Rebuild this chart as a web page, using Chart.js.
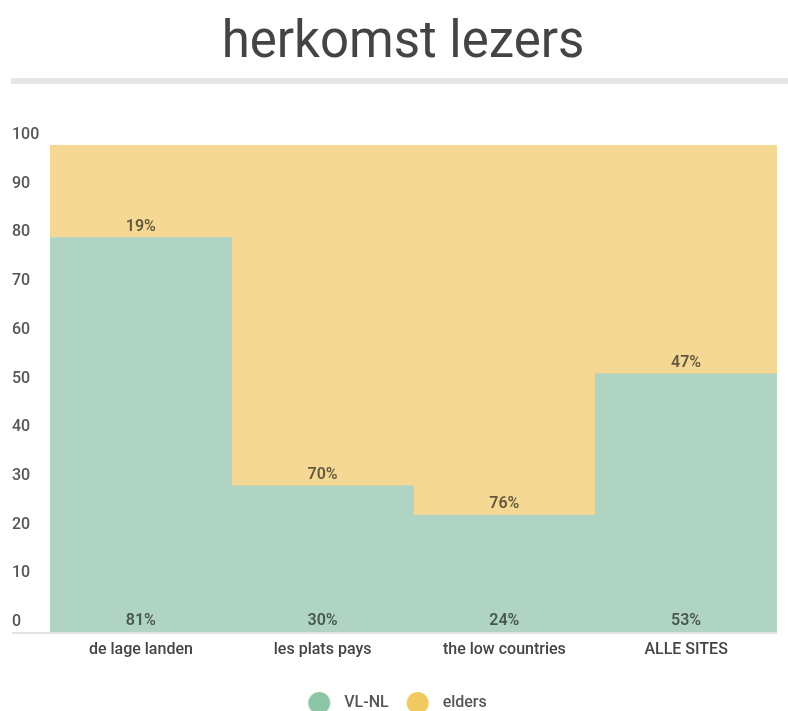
<!DOCTYPE html>
<html>
<head>
<meta charset="utf-8">
<script src="https://cdn.jsdelivr.net/npm/chart.js@4.4.0/dist/chart.umd.min.js"></script>
<style>
  html, body { margin: 0; padding: 0; background: #fff; overflow: hidden; }
  #title {
    position: absolute; left: 0; top: 10px; width: 806px; text-align: center;
    font-family: Roboto, sans-serif; font-size: 51px; color: #444; line-height: 60px;
  }
  #rule { position: absolute; left: 11px; top: 78px; width: 777px; height: 6px; background: #e6e6e6; }
  #wrap { position: absolute; left: 0; top: 0; width: 788px; height: 721px; }
</style>
</head>
<body>
<div id="title">herkomst lezers</div>
<div id="rule"></div>
<div id="wrap"><canvas id="herkomstChart"></canvas></div>
<script>
// categories and the two series (percentages)
var sites = ['de lage landen', 'les plats pays', 'the low countries', 'ALLE SITES'];
var vlNL = [81, 30, 24, 53];
var elders = [19, 70, 76, 47];
var seriesNames = ['VL-NL', 'elders'];
var yTicks = [0, 10, 20, 30, 40, 50, 60, 70, 80, 90, 100];

var barColors = ['#b0d4c3', '#f4d893'];
var legendColors = ['#8cc4a6', '#f0ca60'];

// round legend dots as small canvases so the dot keeps its size
function makeDot(color) {
  var c = document.createElement('canvas');
  c.width = 24; c.height = 24;
  var g = c.getContext('2d');
  g.fillStyle = color;
  g.beginPath();
  g.arc(12, 12, 11, 0, Math.PI * 2);
  g.fill();
  return c;
}
var dots = legendColors.map(makeDot);

// labels at the start of every segment, like the original
var segmentLabels = {
  id: 'segmentLabels',
  afterDatasetsDraw: function(chart) {
    var ctx = chart.ctx;
    ctx.save();
    ctx.font = '600 16px Roboto, sans-serif';
    ctx.fillStyle = 'rgba(0,0,0,0.6)';
    ctx.textAlign = 'center';
    ctx.textBaseline = 'middle';
    chart.data.datasets.forEach(function(ds, i) {
      var meta = chart.getDatasetMeta(i);
      meta.data.forEach(function(bar, j) {
        ctx.fillText(ds.data[j] + '%', bar.x, bar.base - 11);
      });
    });
    ctx.restore();
  }
};

// light baseline under the bars, running under the y labels too
var baseLine = {
  id: 'baseLine',
  afterDatasetsDraw: function(chart) {
    var ctx = chart.ctx;
    var y = chart.scales.y.getPixelForValue(0);
    ctx.save();
    ctx.fillStyle = '#e3e3e3';
    ctx.fillRect(12, Math.round(y), chart.chartArea.right - 12, 2);
    ctx.restore();
  }
};

var ctx = document.getElementById('herkomstChart').getContext('2d');
var myChart = new Chart(ctx, {
  type: 'bar',
  data: {
    labels: sites,
    datasets: [
      { label: seriesNames[0], data: vlNL, backgroundColor: barColors[0], borderWidth: 0 },
      { label: seriesNames[1], data: elders, backgroundColor: barColors[1], borderWidth: 0 }
    ]
  },
  options: {
    responsive: true,
    maintainAspectRatio: false,
    animation: false,
    datasets: { bar: { barPercentage: 1, categoryPercentage: 1 } },
    layout: { padding: { left: 12, right: 11, top: 145, bottom: 0 } },
    scales: {
      x: {
        stacked: true,
        grid: { display: false, drawTicks: false },
        border: { display: false },
        afterFit: function(scale) { scale.height = 51; },
        ticks: { color: '#444', font: { family: 'Roboto', size: 16, weight: '500' }, padding: 8 }
      },
      y: {
        stacked: true,
        min: 0,
        max: 100,
        afterBuildTicks: function(scale) {
          scale.ticks = yTicks.map(function(v) { return { value: v }; });
        },
        afterFit: function(scale) { scale.width = 38; },
        grid: { display: false },
        border: { display: false },
        ticks: {
          color: '#555',
          font: { family: 'Roboto', size: 16, weight: '500' },
          crossAlign: 'far',
          labelOffset: -10
        }
      }
    },
    plugins: {
      tooltip: { enabled: false },
      legend: {
        position: 'bottom',
        labels: {
          usePointStyle: true,
          pointStyleWidth: 34,
          color: '#555',
          font: { family: 'Roboto', size: 16, weight: '500' },
          padding: 12,
          generateLabels: function(chart) {
            return chart.data.datasets.map(function(ds, i) {
              return {
                text: ds.label,
                fillStyle: legendColors[i],
                strokeStyle: legendColors[i],
                lineWidth: 0,
                pointStyle: dots[i],
                datasetIndex: i,
                fontColor: '#555'
              };
            });
          }
        }
      }
    }
  },
  plugins: [segmentLabels, baseLine]
});
</script>
</body>
</html>
